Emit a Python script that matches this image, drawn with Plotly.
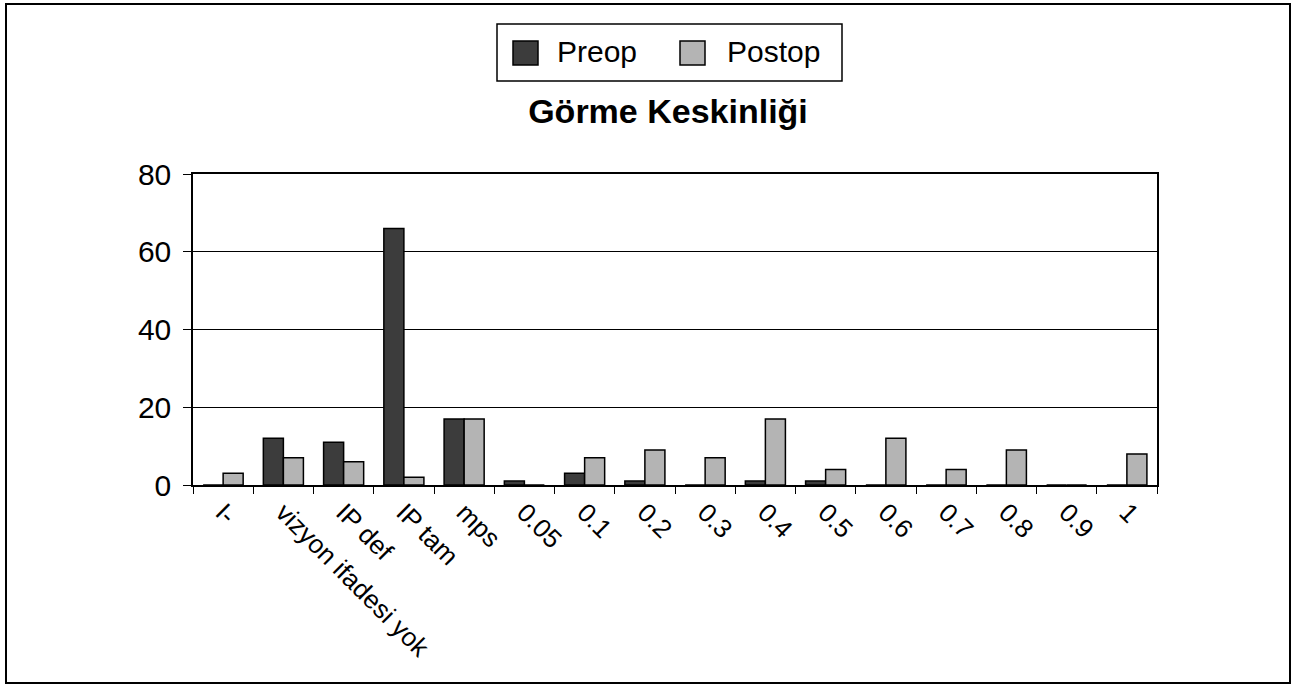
import plotly.graph_objects as go

categories = ["I-", "vizyon ifadesi yok", "IP def", "IP tam", "mps", "0.05", "0.1", "0.2",
              "0.3", "0.4", "0.5", "0.6", "0.7", "0.8", "0.9", "1"]
preop = [0, 12, 11, 66, 17, 1, 3, 1, 0, 1, 1, 0, 0, 0, 0, 0]
postop = [3, 7, 6, 2, 17, 0, 7, 9, 7, 17, 4, 12, 4, 9, 0, 8]
y_ticks = [0, 20, 40, 60, 80]
series_names = ["Preop", "Postop"]
series_colors = ["#3c3c3c", "#b4b4b4"]

FONT = "Liberation Sans, Arial, sans-serif"

fig = go.Figure()
for name, vals, col in zip(series_names, [preop, postop], series_colors):
    fig.add_trace(go.Bar(name=name, x=categories, y=vals,
                         marker=dict(color=col, line=dict(color="black", width=1.5))))

L, R, T, B = 193, 140, 174, 203
W, H = 1297, 688
pw, ph = W - L - R, H - T - B

def px(x):
    return (x - L) / pw

def py(y):
    return (H - B - y) / ph

fig.update_layout(
    width=W, height=H,
    margin=dict(l=L, r=R, t=T, b=B, pad=0),
    paper_bgcolor="white", plot_bgcolor="white",
    font=dict(family=FONT, color="black"),
    barmode="group", bargap=0.335, bargroupgap=0,
    title=dict(text="<b>Görme Keskinliği</b>", x=px(668), xanchor="center",
               xref="paper", y=1 - 111 / H, yanchor="middle",
               font=dict(size=34, family=FONT, color="black")),
    showlegend=False,
)
fig.update_xaxes(type="category", showline=True, linecolor="black", linewidth=1.5,
                 mirror=True,
                 ticks="outside", tickson="boundaries", ticklen=7, tickcolor="black",
                 tickangle=45, tickfont=dict(size=26, family=FONT, color="black"),
                 showgrid=False)
fig.update_yaxes(range=[0, 80], tickvals=y_ticks, showline=True, linecolor="black",
                 linewidth=1.5, mirror=True, ticks="outside", ticklen=8, tickcolor="black",
                 ticklabelstandoff=6,
                 showgrid=True, gridcolor="black", gridwidth=1.2, zeroline=False,
                 tickfont=dict(size=30, family=FONT, color="black"))

# outer chart frame
fig.add_shape(type="rect", xref="paper", yref="paper",
              x0=px(6), x1=px(1290), y0=py(683), y1=py(4),
              line=dict(color="black", width=2), fillcolor="rgba(0,0,0,0)", layer="above")

# legend box
fig.add_shape(type="rect", xref="paper", yref="paper",
              x0=px(497), x1=px(842), y0=py(81), y1=py(24),
              line=dict(color="black", width=1.5), fillcolor="white", layer="above")
leg_sq_x = [513, 680]
leg_txt_x = [555, 725]
for name, col, sx, tx in zip(series_names, series_colors, leg_sq_x, leg_txt_x):
    fig.add_shape(type="rect", xref="paper", yref="paper",
                  x0=px(sx), x1=px(sx + 25), y0=py(65), y1=py(41),
                  line=dict(color="black", width=1.5), fillcolor=col, layer="above")
    fig.add_annotation(text=name, xref="paper", yref="paper", x=px(tx), y=py(52),
                       xanchor="left", yanchor="middle", showarrow=False,
                       font=dict(size=30, family=FONT, color="black"))

fig.write_html("out.html", config={"displayModeBar": False},
               post_script="document.body.style.margin='0';")
